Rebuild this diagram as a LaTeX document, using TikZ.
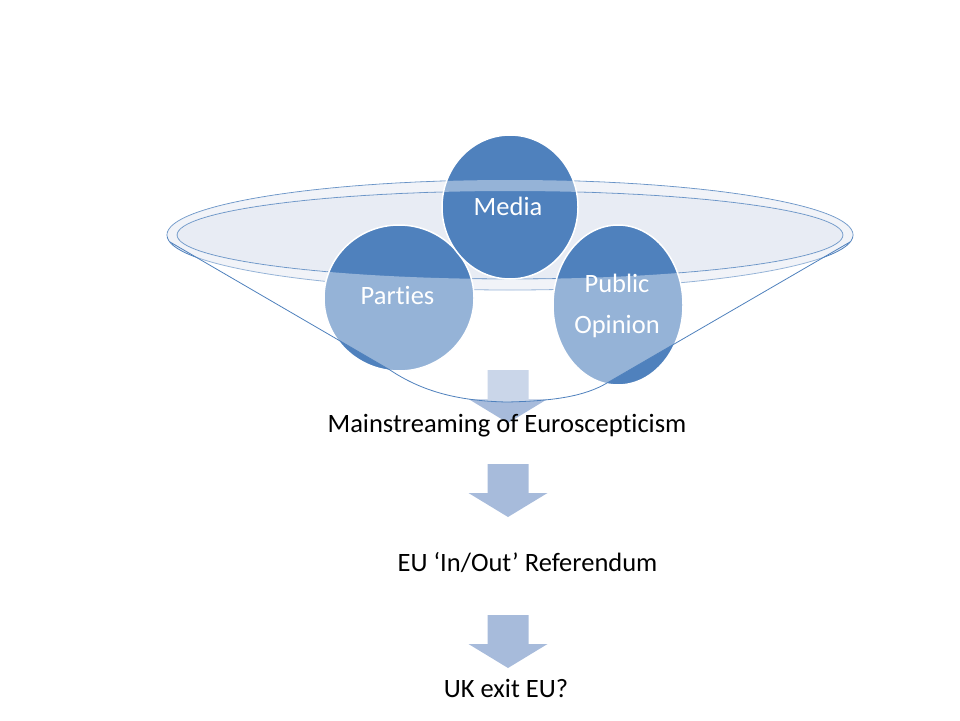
\documentclass[tikz,border=0pt]{standalone}
\usepackage{fontspec}
\setmainfont{Carlito}[Ligatures=NoCommon]
\usetikzlibrary{positioning}

\definecolor{accent}{HTML}{4F81BD}
\definecolor{rimfill}{HTML}{E8ECF4}
\definecolor{arrowfill}{RGB}{167,187,219}

\tikzset{
  topic/.style={fill=accent, draw=white, line width=1.5pt},
  funnel/.style={draw=accent, line width=0.8pt},
  topiclabel/.style={text=white, anchor=base, inner sep=0pt, align=center, font=\fontsize{26.5}{41}\selectfont},
  steplabel/.style={text=black, anchor=base, inner sep=0pt, font=\fontsize{26.5}{32}\selectfont},
}

% block arrow pointing down, top edge at y = #1
\newcommand{\flowarrow}[1]{%
  \fill[arrowfill] (487.5,#1) -- ++(41,0) -- ++(0,29) -- ++(19,0) -- ++(-39.5,24)
    -- ++(-39.5,-24) -- ++(19,0) -- cycle;}

\begin{document}
\begin{tikzpicture}[x=1pt, y=-1pt]
\useasboundingbox (0,0) rectangle (960,720);

% Funnel opening
\fill[rimfill] (510,235) ellipse[x radius=343, y radius=55];
\draw[funnel] (510,235) ellipse[x radius=343, y radius=55];
\draw[funnel] (510,235) ellipse[x radius=333, y radius=44];

% Arrow leaving the funnel
\flowarrow{370}

% Circles
\filldraw[topic] (399,298) ellipse[x radius=75, y radius=73];
\filldraw[topic] (618,305) ellipse[x radius=65, y radius=80];
\filldraw[topic] (510,207) ellipse[x radius=68, y radius=72];

% Funnel body (light veil over the circles)
\fill[white, fill opacity=0.4, even odd rule]
  (167,235) arc[start angle=180, end angle=360, x radius=343, y radius=55]
  -- (850,242) -- (607,383) .. controls (585,396) and (555,401) .. (507,402)
  .. controls (455,401) and (420,390) .. (390,370) -- (170,242) -- cycle
  (510,235) ellipse[x radius=333, y radius=44];
\draw[funnel] (170,242) -- (390,370) .. controls (420,390) and (455,401) .. (507,402)
  .. controls (555,401) and (585,396) .. (607,383) -- (850,242);

% Labels in the circles
\node[topiclabel] (media) at (508,215) {Media};
\node[topiclabel] (parties) at (397.5,304) {Parties};
\node[topiclabel] (opinion) at (617,333) {Public\\Opinion};

% Steps below the funnel
\node[steplabel] (mainstream) at (507,432) {Mainstreaming of Euroscepticism};
\flowarrow{464}
\node[steplabel] (referendum) at (527.5,571) {EU ‘In/Out’ Referendum};
\flowarrow{615}
\node[steplabel] (brexit) at (506,697) {UK exit EU?};

\end{tikzpicture}
\end{document}
